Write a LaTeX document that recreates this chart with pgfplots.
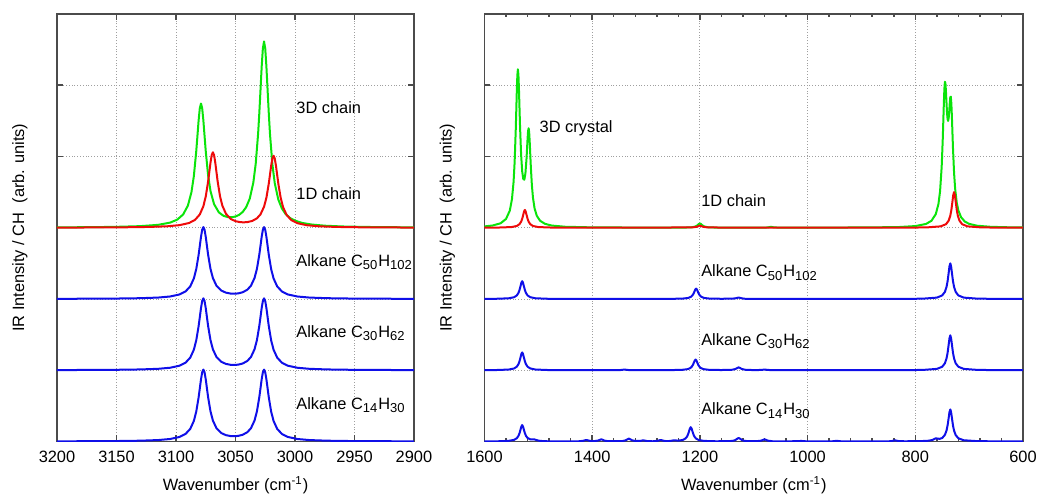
\documentclass[border=0pt]{standalone}
\usepackage{fontspec}
\setmainfont{Liberation Sans}
\usepackage{pgfplots}
\usepackage{pgfplotstable}
\pgfplotsset{compat=1.18}
\definecolor{cgreen}{RGB}{10,228,10}
\definecolor{cred}{RGB}{238,10,10}
\definecolor{cblue}{RGB}{15,15,232}
\definecolor{axgray}{RGB}{75,75,75}
\newcommand{\lblfont}{\fontsize{8.2}{9.8}\selectfont}
\newcommand{\sub}[1]{\textsubscript{\fontsize{6.5}{7}\selectfont #1}}

% left panel: blue alkane spectra (C14, C30, C50), y already offset
\pgfplotstableread{
x a b c
3200 0.0025 1.0025 2.0025
3170 0.0041 1.0041 2.0041
3150 0.0063 1.0063 2.0063
3130 0.0111 1.0111 2.0111
3115 0.0201 1.0201 2.0201
3105 0.0349 1.0349 2.0349
3097 0.0637 1.0637 2.0637
3092 0.1057 1.1057 2.1057
3088 0.1777 1.1777 2.1777
3085 0.2880 1.2880 2.2880
3083 0.4174 1.4174 2.4174
3081 0.6180 1.6180 2.6180
3080 0.7438 1.7438 2.7438
3079 0.8709 1.8709 2.8709
3078 0.9707 1.9707 2.9707
3077 1.0095 2.0095 3.0095
3076 0.9714 1.9714 2.9714
3075 0.8724 1.8724 2.8724
3074 0.7460 1.7460 2.7460
3073 0.6210 1.6210 2.6210
3071 0.4220 1.4220 2.4220
3069 0.2942 1.2942 2.2942
3066 0.1866 1.1866 2.1866
3062 0.1189 1.1189 2.1189
3058 0.0886 1.0886 2.0886
3054 0.0760 1.0760 2.0760
3051 0.0742 1.0742 2.0742
3048 0.0780 1.0780 2.0780
3044 0.0940 1.0940 2.0940
3040 0.1310 1.1310 2.1310
3037 0.1866 1.1866 2.1866
3034 0.2942 1.2942 2.2942
3032 0.4220 1.4220 2.4220
3030 0.6210 1.6210 2.6210
3029 0.7460 1.7460 2.7460
3028 0.8724 1.8724 2.8724
3027 0.9714 1.9714 2.9714
3026 1.0095 2.0095 3.0095
3025 0.9707 1.9707 2.9707
3024 0.8709 1.8709 2.8709
3023 0.7438 1.7438 2.7438
3022 0.6180 1.6180 2.6180
3020 0.4174 1.4174 2.4174
3018 0.2880 1.2880 2.2880
3015 0.1777 1.1777 2.1777
3011 0.1057 1.1057 2.1057
3006 0.0637 1.0637 2.0637
2998 0.0349 1.0349 2.0349
2988 0.0201 1.0201 2.0201
2973 0.0111 1.0111 2.0111
2953 0.0063 1.0063 2.0063
2933 0.0041 1.0041 2.0041
2900 0.0024 1.0024 2.0024
}\leftblue

\pgfplotsset{
 irstyle/.style={
  scale only axis,
  height=213.75pt,
  ymin=0, ymax=6,
  ytick={0,1,2,3,4,5,6},
  yticklabels={},
  x dir=reverse,
  grid=major,
  major grid style={densely dotted, gray!75, line width=0.45pt},
  axis line style={axgray, line width=0.75pt},
  every tick/.style={axgray, line width=0.75pt},
  major tick length=3pt,
  minor tick length=1.5pt,
  tick align=inside,
  tick label style={font=\lblfont},
  xticklabel style={yshift=-2pt},
  label style={font=\lblfont},
  xlabel={Wavenumber (cm\textsuperscript{-1})},
  ylabel={IR Intensity / CH\ \ (arb. units)},
  xlabel style={at={(axis description cs:0.5,0)}, anchor=center, yshift=-22pt},
  ylabel style={at={(axis description cs:0,0.5)}, anchor=center, yshift=18.5pt},
  /pgf/number format/assume math mode=true,
  /pgf/number format/1000 sep={},
  every axis plot/.append style={line width=1pt, line join=round, mark=none},
 }
}

\begin{document}
\lblfont
\begin{tikzpicture}
\path[use as bounding box] (-28.5pt,-27.25pt) rectangle (491.5pt,220.75pt);

% ---------------- left panel ----------------
\begin{axis}[irstyle, at={(0pt,0pt)}, anchor=south west, width=178.5pt,
  xmin=2900, xmax=3200, xtick={2900,2950,3000,3050,3100,3150,3200}]
\addplot[cblue] table[x=x, y=a] {\leftblue};
\addplot[cblue] table[x=x, y=b] {\leftblue};
\addplot[cblue] table[x=x, y=c] {\leftblue};
% 3D chain (green)
\addplot[cgreen] coordinates {
(3200,3.0051)(3170,3.0083)(3150,3.0127)(3130,3.0224)(3115,3.0407)(3105,3.0718)(3099,3.1132)(3094,3.1860)(3090,3.3103)(3087,3.5005)(3085,3.7234)(3083,4.0687)(3082,4.2853)(3081,4.5042)(3080,4.6759)(3079,4.7429)(3078,4.6777)(3077,4.5075)(3076,4.2904)(3075,4.0757)(3073,3.7340)(3071,3.5148)(3068,3.3308)(3064,3.2162)(3060,3.1665)(3056,3.1478)(3053,3.1476)(3050,3.1579)(3047,3.1803)(3044,3.2206)(3041,3.2892)(3038,3.4097)(3035,3.6350)(3033,3.8984)(3031,4.3184)(3030,4.6032)(3029,4.9288)(3028,5.2578)(3027,5.5157)(3026,5.6151)(3025,5.5145)(3024,5.2556)(3023,4.9254)(3022,4.5986)(3021,4.3127)(3019,3.8902)(3017,3.6243)(3014,3.3946)(3011,3.2693)(3008,3.1946)(3004,3.1353)(3000,3.0997)(2994,3.0678)(2986,3.0450)(2975,3.0287)(2960,3.0178)(2940,3.0110)(2920,3.0075)(2900,3.0054)};
% 1D chain (red)
\addplot[cred] coordinates {
(3200,3.0023)(3192,3.0026)(3162,3.0042)(3142,3.0065)(3122,3.0115)(3107,3.0210)(3097,3.0364)(3089,3.0666)(3084,3.1107)(3080,3.1863)(3077,3.3020)(3075,3.4379)(3073,3.6485)(3072,3.7806)(3071,3.9140)(3070,4.0188)(3069,4.0595)(3068,4.0195)(3067,3.9155)(3066,3.7828)(3065,3.6515)(3063,3.4425)(3061,3.3082)(3058,3.1952)(3054,3.1239)(3050,3.0918)(3046,3.0783)(3043,3.0760)(3040,3.0794)(3036,3.0951)(3032,3.1319)(3029,3.1874)(3026,3.2949)(3024,3.4226)(3022,3.6216)(3021,3.7465)(3020,3.8729)(3019,3.9719)(3018,4.0100)(3017,3.9712)(3016,3.8713)(3015,3.7442)(3014,3.6184)(3012,3.4178)(3010,3.2884)(3007,3.1780)(3003,3.1060)(2998,3.0639)(2990,3.0351)(2980,3.0203)(2965,3.0112)(2945,3.0064)(2925,3.0042)(2900,3.0027)};
\node[anchor=west, inner sep=0.5pt] at (axis cs:3000,4.69) {3D chain};
\node[anchor=west, inner sep=0.5pt] at (axis cs:3000,3.48) {1D chain};
\node[anchor=west, inner sep=0.5pt] at (axis cs:3000,2.52) {Alkane C\sub{50}H\sub{102}};
\node[anchor=west, inner sep=0.5pt] at (axis cs:3000,1.52) {Alkane C\sub{30}H\sub{62}};
\node[anchor=west, inner sep=0.5pt] at (axis cs:3000,0.51) {Alkane C\sub{14}H\sub{30}};
\end{axis}

% ---------------- right panel ----------------
\begin{axis}[irstyle, at={(213.75pt,0pt)}, anchor=south west, width=269.25pt,
  xmin=600, xmax=1600, xtick={600,800,1000,1200,1400,1600}, minor x tick num=4]
% C14H30
\addplot[cblue] coordinates {
(1600,0.001)(1575,0.003)(1555,0.009)(1545,0.023)(1540,0.046)(1537,0.078)(1535,0.115)(1533,0.169)(1531.5,0.211)(1530,0.23)(1528.5,0.211)(1527,0.170)(1525,0.117)(1523,0.080)(1520,0.049)(1515,0.030)(1511,0.030)(1508,0.031)(1505,0.024)(1500,0.012)(1490,0.004)(1470,0.002)(1425,0.003)(1417,0.009)(1414,0.016)(1411,0.021)(1408,0.016)(1403,0.007)(1396,0.006)(1389,0.013)(1386,0.022)(1383,0.031)(1380,0.022)(1377,0.012)(1370,0.004)(1355,0.004)(1344,0.006)(1338,0.016)(1335,0.029)(1332,0.040)(1329,0.029)(1326,0.017)(1320,0.007)(1311,0.008)(1308,0.013)(1305,0.016)(1302,0.012)(1298,0.006)(1288,0.003)(1279,0.009)(1276,0.015)(1273,0.021)(1270,0.016)(1266,0.008)(1260,0.004)(1254,0.009)(1251,0.013)(1248,0.017)(1245,0.015)(1240,0.012)(1232,0.021)(1227,0.041)(1224,0.068)(1222,0.100)(1220,0.147)(1218.5,0.184)(1217,0.200)(1215.5,0.184)(1214,0.147)(1212,0.100)(1210,0.068)(1207,0.040)(1202,0.020)(1192,0.008)(1170,0.003)(1145,0.005)(1137,0.012)(1134,0.021)(1131,0.037)(1128,0.050)(1125,0.037)(1122,0.021)(1118,0.010)(1110,0.004)(1095,0.004)(1086,0.012)(1083,0.022)(1080,0.030)(1077,0.022)(1074,0.012)(1065,0.003)(1040,0.001)(1015,0.006)(1012,0.008)(1009,0.006)(1000,0.001)(955,0.002)(949,0.007)(946,0.010)(943,0.007)(937,0.002)(850,0.002)(844,0.006)(841,0.011)(838,0.016)(835,0.012)(832,0.007)(820,0.003)(790,0.005)(775,0.011)(768,0.022)(765,0.034)(762,0.045)(759,0.041)(755,0.037)(750,0.049)(745,0.093)(742,0.154)(740,0.227)(738,0.332)(736.5,0.413)(735,0.450)(733.5,0.413)(732,0.331)(730,0.225)(728,0.152)(725,0.090)(720,0.045)(710,0.017)(685,0.005)(650,0.002)(600,0.001)};
% C30H62
\addplot[cblue] coordinates {
(1600,1.001)(1580,1.0025)(1555,1.0096)(1545,1.025)(1540,1.05)(1537,1.0845)(1535,1.125)(1533,1.184)(1531.5,1.229)(1530,1.25)(1528.5,1.229)(1527,1.184)(1525,1.125)(1523,1.0845)(1520,1.05)(1515,1.025)(1505,1.0096)(1480,1.0025)(1400,1.001)(1350,1.002)(1346,1.004)(1340,1.010)(1334,1.004)(1330,1.002)(1258,1.0015)(1233,1.0058)(1223,1.015)(1218,1.03)(1215,1.0507)(1213,1.075)(1211,1.110)(1209.5,1.1376)(1208,1.15)(1206.5,1.1376)(1205,1.110)(1203,1.075)(1201,1.0507)(1198,1.03)(1193,1.015)(1183,1.0058)(1160,1.003)(1140,1.007)(1134,1.017)(1131,1.030)(1128,1.04)(1125,1.030)(1122,1.017)(1116,1.007)(1100,1.002)(1086,1.004)(1080,1.010)(1074,1.004)(1060,1.001)(900,1.001)(800,1.003)(785,1.0049)(760,1.0189)(750,1.049)(745,1.098)(742,1.1655)(740,1.245)(738,1.3603)(736.5,1.4495)(735,1.49)(733.5,1.4495)(732,1.3603)(730,1.245)(728,1.1655)(725,1.098)(720,1.049)(710,1.0189)(685,1.0049)(650,1.0017)(600,1.001)};
% C50H102
\addplot[cblue] coordinates {
(1600,2.001)(1580,2.0025)(1555,2.0096)(1545,2.025)(1540,2.05)(1537,2.0845)(1535,2.125)(1533,2.184)(1531.5,2.229)(1530,2.25)(1528.5,2.229)(1527,2.184)(1525,2.125)(1523,2.0845)(1520,2.05)(1515,2.025)(1505,2.0096)(1480,2.0025)(1400,2.001)(1300,2.001)(1257,2.0014)(1232,2.0056)(1222,2.0145)(1217,2.029)(1214,2.049)(1212,2.0725)(1210,2.1066)(1208.5,2.133)(1207,2.145)(1205.5,2.133)(1204,2.1066)(1202,2.0725)(1200,2.049)(1197,2.029)(1192,2.0145)(1182,2.0056)(1160,2.003)(1140,2.005)(1134,2.009)(1131,2.015)(1128,2.02)(1125,2.015)(1122,2.009)(1116,2.003)(1100,2.001)(900,2.001)(800,2.003)(785,2.005)(760,2.0193)(750,2.05)(745,2.1)(742,2.169)(740,2.25)(738,2.3677)(736.5,2.4587)(735,2.5)(733.5,2.4587)(732,2.3677)(730,2.25)(728,2.169)(725,2.1)(720,2.05)(710,2.0193)(685,2.005)(650,2.0017)(600,2.001)};
% 3D crystal (green)
\addplot[cgreen] coordinates {
(1600,3.0187)(1585,3.0311)(1570,3.0629)(1560,3.1234)(1553,3.2404)(1549,3.4003)(1546,3.6431)(1544,3.9264)(1542,4.3639)(1541,4.6382)(1540,4.9159)(1539,5.1353)(1538,5.2247)(1537,5.1495)(1536,4.9444)(1535,4.6820)(1534,4.4241)(1532,4.0247)(1530,3.7917)(1528,3.6840)(1526,3.6747)(1524,3.7636)(1522,3.9658)(1521,4.1049)(1520,4.2488)(1519,4.3604)(1518,4.3964)(1517,4.3363)(1516,4.2005)(1515,4.0308)(1514,3.8638)(1512,3.5972)(1510,3.4231)(1507,3.2720)(1503,3.1700)(1497,3.0997)(1488,3.0556)(1475,3.0304)(1450,3.0138)(1400,3.0051)(1300,3.0020)(1230,3.0015)(1215,3.007)(1208,3.018)(1204,3.037)(1202,3.052)(1200,3.061)(1198,3.052)(1196,3.037)(1192,3.018)(1185,3.007)(1170,3.002)(1080,3.0015)(1074,3.0045)(1068,3.013)(1062,3.0045)(1050,3.0015)(950,3.0025)(880,3.005)(830,3.010)(800,3.0234)(780,3.0536)(770,3.0978)(762,3.1896)(757,3.3335)(754,3.5116)(751,3.8544)(749,4.2431)(747,4.7383)(746,4.9451)(745,5.0496)(744,5.0250)(743,4.9023)(742,4.7449)(741,4.6079)(740,4.5221)(739,4.4993)(738,4.5390)(737,4.6300)(736,4.7439)(735,4.8323)(734,4.8399)(733,4.7392)(732,4.5528)(731,4.3301)(730,4.1141)(728,3.7708)(726,3.5467)(723,3.3503)(720,3.2423)(715,3.1476)(708,3.0868)(700,3.0543)(685,3.0281)(660,3.0130)(630,3.0069)(600,3.0042)};
% 1D chain (red)
\addplot[cred] coordinates {
(1600,3.001)(1575,3.0025)(1550,3.0096)(1540,3.025)(1535,3.05)(1532,3.0845)(1530,3.125)(1528,3.184)(1526.5,3.229)(1525,3.25)(1523.5,3.229)(1522,3.184)(1520,3.125)(1518,3.0845)(1515,3.05)(1510,3.025)(1500,3.0096)(1475,3.0025)(1400,3.001)(1215,3.004)(1206,3.013)(1203,3.022)(1200,3.03)(1197,3.022)(1194,3.013)(1185,3.004)(1100,3.001)(900,3.001)(808,3.002)(778,3.005)(753,3.0193)(743,3.05)(738,3.1)(735,3.169)(733,3.25)(731,3.3677)(729.5,3.4587)(728,3.5)(726.5,3.4587)(725,3.3677)(723,3.25)(721,3.169)(718,3.1)(713,3.05)(703,3.0193)(678,3.005)(648,3.002)(600,3.001)};
\node[anchor=west, inner sep=0.5pt] at (axis cs:1500,4.39) {3D crystal};
\node[anchor=west, inner sep=0.5pt] at (axis cs:1200,3.38) {1D chain};
\node[anchor=west, inner sep=0.5pt] at (axis cs:1200,2.37) {Alkane C\sub{50}H\sub{102}};
\node[anchor=west, inner sep=0.5pt] at (axis cs:1200,1.41) {Alkane C\sub{30}H\sub{62}};
\node[anchor=west, inner sep=0.5pt] at (axis cs:1200,0.43) {Alkane C\sub{14}H\sub{30}};
\end{axis}
\end{tikzpicture}
\end{document}
